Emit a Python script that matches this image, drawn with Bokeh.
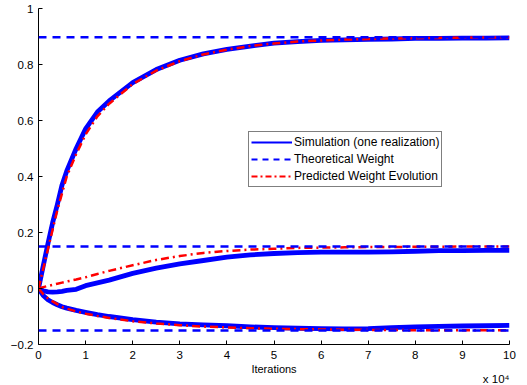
from bokeh.plotting import figure
from bokeh.models import Range1d, FixedTicker, Span, Legend, LegendItem, Title
from bokeh.embed import file_html
from bokeh.resources import INLINE

# ---- data (iterations in units of 1e4) ----
iters = [0, 0.1, 0.2, 0.3, 0.4, 0.5, 0.6, 0.8, 1.0, 1.25, 1.5, 2.0, 2.5, 3.0, 3.5,
         4.0, 4.5, 5.0, 5.5, 6.0, 6.5, 7.0, 7.5, 8.0, 8.5, 9.0, 9.5, 10.0]

sim_w1 = [0, 0.08, 0.16, 0.235, 0.30, 0.37, 0.42, 0.50, 0.57, 0.63, 0.67, 0.735, 0.782, 0.815, 0.838,
          0.854, 0.866, 0.876, 0.882, 0.886, 0.888, 0.890, 0.891, 0.893, 0.893, 0.894, 0.894, 0.895]
sim_w2 = [0, -0.008, -0.012, -0.013, -0.012, -0.010, -0.007, -0.003, 0.010, 0.020, 0.030, 0.054, 0.073, 0.088, 0.100,
          0.112, 0.120, 0.125, 0.128, 0.130, 0.130, 0.130, 0.131, 0.133, 0.135, 0.135, 0.136, 0.136]
sim_w3 = [0, -0.025, -0.040, -0.050, -0.058, -0.065, -0.070, -0.078, -0.085, -0.093, -0.100, -0.111, -0.120, -0.126, -0.130,
          -0.133, -0.137, -0.140, -0.142, -0.143, -0.144, -0.143, -0.140, -0.137, -0.135, -0.134, -0.133, -0.132]

pred_w1 = [0, 0.07, 0.14, 0.21, 0.28, 0.34, 0.40, 0.48, 0.55, 0.615, 0.66, 0.73, 0.778, 0.812, 0.836,
           0.853, 0.866, 0.875, 0.882, 0.886, 0.889, 0.891, 0.893, 0.894, 0.895, 0.896, 0.896, 0.897]
pred_w2 = [0, 0.005, 0.009, 0.013, 0.017, 0.021, 0.025, 0.032, 0.040, 0.052, 0.063, 0.083, 0.102, 0.116, 0.127,
           0.134, 0.139, 0.142, 0.145, 0.146, 0.147, 0.148, 0.148, 0.149, 0.149, 0.150, 0.150, 0.150]
pred_w3 = [0, -0.020, -0.035, -0.046, -0.056, -0.066, -0.072, -0.082, -0.090, -0.098, -0.105, -0.117, -0.125, -0.131, -0.136,
           -0.139, -0.142, -0.144, -0.145, -0.146, -0.147, -0.148, -0.148, -0.149, -0.149, -0.149, -0.149, -0.149]

theory = [0.897, 0.150, -0.150]

x_ticks = [0, 1, 2, 3, 4, 5, 6, 7, 8, 9, 10]
y_ticks = [-0.2, 0, 0.2, 0.4, 0.6, 0.8, 1.0]
y_tick_labels = ["\u22120.2", "0", "0.2", "0.4", "0.6", "0.8", "1"]

legend_labels = ["Simulation (one realization)", "Theoretical Weight", "Predicted Weight Evolution"]
x_label = "Iterations"
x_scale_note = "x 10\u2074"

FONT = "Liberation Sans"
BLUE = "#0000FF"
RED = "#FF0000"
NAN = float("nan")

p = figure(width=527, height=385, output_backend="svg", toolbar_location=None,
           x_range=Range1d(0, 10), y_range=Range1d(-0.2, 1.0),
           min_border_left=38, min_border_right=18, min_border_top=8, min_border_bottom=41)
p.outline_line_color = None
p.xgrid.visible = False
p.ygrid.visible = False
p.background_fill_color = "white"
p.border_fill_color = "white"

for ax in (p.xaxis[0], p.yaxis[0]):
    ax.major_tick_in = 4
    ax.major_tick_out = 0
    ax.minor_tick_line_color = None
    ax.axis_line_color = "black"
    ax.major_tick_line_color = "black"
    ax.major_label_text_font = FONT
    ax.major_label_text_font_size = "11.5px"
    ax.major_label_text_color = "black"

p.xaxis.ticker = FixedTicker(ticks=x_ticks)
p.yaxis.ticker = FixedTicker(ticks=y_ticks)
p.yaxis.major_label_overrides = {v: s for v, s in zip(y_ticks, y_tick_labels)}
p.yaxis.major_label_standoff = 5
p.xaxis.major_label_standoff = 6
p.xaxis.axis_label = x_label
p.xaxis.axis_label_text_font = FONT
p.xaxis.axis_label_text_font_size = "11px"
p.xaxis.axis_label_text_font_style = "normal"
p.xaxis.axis_label_text_color = "black"
p.xaxis.axis_label_standoff = 1

# simulation curves
for ys in (sim_w1, sim_w2, sim_w3):
    p.line(iters, ys, line_color=BLUE, line_width=4.8, line_join="round")

# theoretical weights
for t in theory:
    p.add_layout(Span(location=t, dimension="width", line_color=BLUE, line_width=2.5, line_dash="8 6"))

# predicted
for ys in (pred_w1, pred_w2, pred_w3):
    p.line(iters, ys, line_color=RED, line_width=2.5, line_dash="8 4 2 4")

# legend-only renderers (single NaN point, draws nothing in the frame)
r_sim = p.line([NAN], [NAN], line_color=BLUE, line_width=2)
r_th = p.line([NAN], [NAN], line_color=BLUE, line_width=2, line_dash="6 5")
r_pr = p.line([NAN], [NAN], line_color=RED, line_width=2, line_dash="6 3 2 3")

legend = Legend(items=[LegendItem(label=legend_labels[0], renderers=[r_sim]),
                       LegendItem(label=legend_labels[1], renderers=[r_th]),
                       LegendItem(label=legend_labels[2], renderers=[r_pr])],
                location=(210, 157), margin=0, padding=2, spacing=1,
                glyph_width=41, glyph_height=16, label_height=16, label_standoff=2,
                label_text_font=FONT, label_text_font_size="12px", label_text_color="black",
                border_line_color="black", border_line_width=1,
                background_fill_color="white", background_fill_alpha=1.0)
p.add_layout(legend, "center")

note = Title(text=x_scale_note, align="right", text_font=FONT, text_font_size="11.5px",
             text_font_style="normal", text_color="black", standoff=-15, offset=0)
p.add_layout(note, "below")

open("out.html", "w").write(file_html(p, INLINE))
